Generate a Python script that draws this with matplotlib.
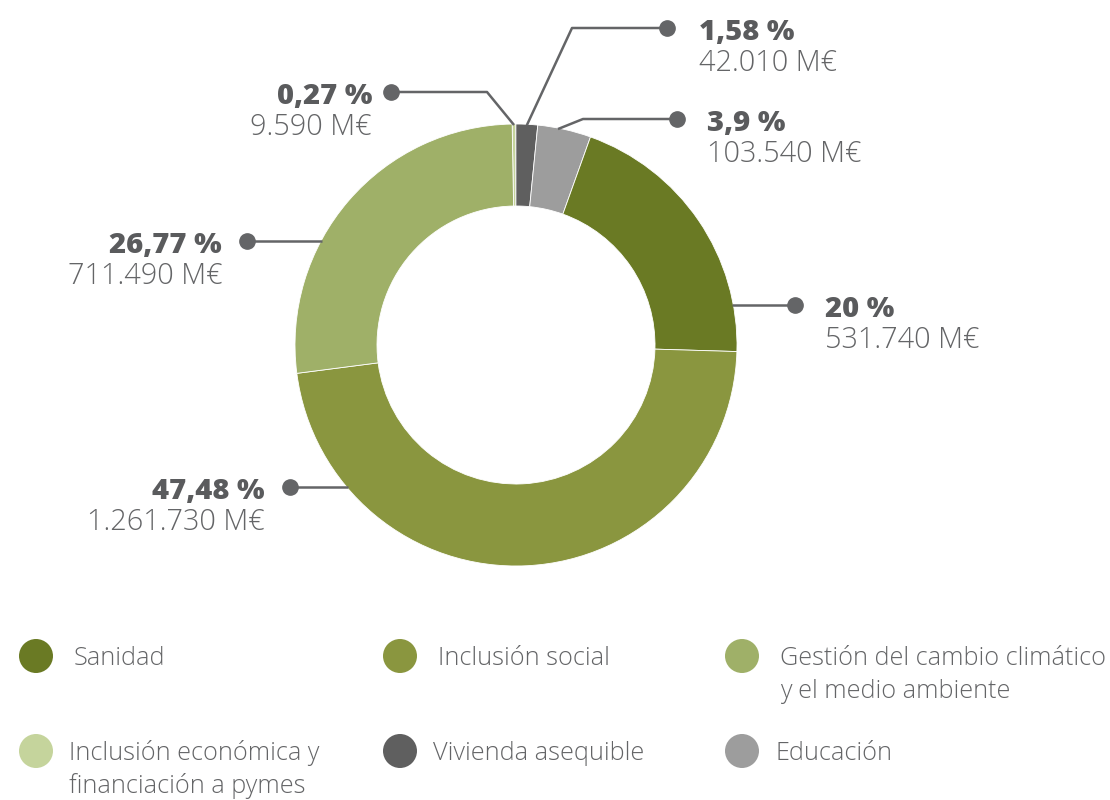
import matplotlib
matplotlib.use("Agg")
import matplotlib.pyplot as plt
import numpy as np

# ---- data ----
categories = ["Inclusión económica y\nfinanciación a pymes", "Vivienda asequible", "Educación",
              "Sanidad", "Inclusión social", "Gestión del cambio climático\ny el medio ambiente"]
percents = [0.27, 1.58, 3.9, 20, 47.48, 26.77]
pct_labels = ["0,27 %", "1,58 %", "3,9 %", "20 %", "47,48 %", "26,77 %"]
amount_labels = ["9.590 M€", "42.010 M€", "103.540 M€", "531.740 M€", "1.261.730 M€", "711.490 M€"]
colors = ["#c5d49c", "#5f5f5f", "#9d9d9d", "#6a7a24", "#8a963f", "#9fb068"]

# legend order
legend_order = [3, 4, 5, 0, 1, 2]

W, H = 1110, 800
fig = plt.figure(figsize=(W / 100, H / 100), dpi=100)
ax = fig.add_axes([0, 0, 1, 1])

def Y(py):
    return H - py

cx, cy = 516, Y(345)
R, width = 221, 82
start = 91.0
wedges, _ = ax.pie(percents, colors=colors, startangle=start, counterclock=False,
                   center=(cx, cy), radius=R, frame=True,
                   wedgeprops=dict(width=width, edgecolor="white", linewidth=0.6))
ax.set_xlim(0, W)
ax.set_ylim(0, H)
ax.set_aspect("equal")
ax.axis("off")

FONT = "Open Sans"
txt_col = "#646567"
bold_col = "#5a5b5d"
line_col = "#646567"

# label layout: (anchor fraction within wedge, elbow point (px), dot point (px), text x, align)
layout = [
    (0.5, (487, 92), (391, 92), 372, "right"),
    (0.5, (572, 28), (667, 28), 699, "left"),
    (0.62, (583, 119), (677, 119), 707, "left"),
    (0.955, None, (795, 305), 825, "left"),
    (0.82, None, (290, 487), 265, "right"),
    (0.27, None, (247, 241), 222, "right"),
]

for w, (frac, elbow, dot, tx, ha), p, a in zip(wedges, layout, pct_labels, amount_labels):
    th = np.deg2rad(w.theta1 + frac * (w.theta2 - w.theta1))
    dx, dy = dot[0], Y(dot[1])
    if elbow is None:
        yy = dy - cy
        xx = np.sqrt(max(R**2 - yy**2, 0)) * np.sign(dx - cx)
        ax_, ay_ = cx + xx - np.sign(dx - cx) * 1, dy
        xs, ys = [ax_, dx], [ay_, dy]
    else:
        ax_, ay_ = cx + (R - 1) * np.cos(th), cy + (R - 1) * np.sin(th)
        xs, ys = [ax_, elbow[0], dx], [ay_, Y(elbow[1]), dy]
    ax.plot(xs, ys, color=line_col, lw=1.8, solid_capstyle="butt", zorder=3)
    ax.plot([dx], [dy], "o", color=line_col, ms=11, zorder=4)
    ax.text(tx, dy - 12, p, ha=ha, va="baseline", fontsize=21, fontweight="heavy",
            color=bold_col, family=FONT)
    ax.text(tx, dy - 43, a, ha=ha, va="baseline", fontsize=20.8, fontweight="light",
            color=txt_col, family=FONT)

# legend
col_x = [36, 400, 742]
row_y = [656, 751]
text_dx = [38, 33]
for k, idx in enumerate(legend_order):
    r, c = divmod(k, 3)
    x0, y0 = col_x[c], Y(row_y[r])
    ax.add_patch(plt.Circle((x0, y0), 17, color=colors[idx], lw=0))
    for j, ln in enumerate(categories[idx].split("\n")):
        ax.text(x0 + text_dx[r], y0 - 9 - j * 33, ln, ha="left", va="baseline", fontsize=18.2,
                fontweight="light", color=txt_col, family=FONT)

fig.savefig("out.png", dpi=100, facecolor="white")
